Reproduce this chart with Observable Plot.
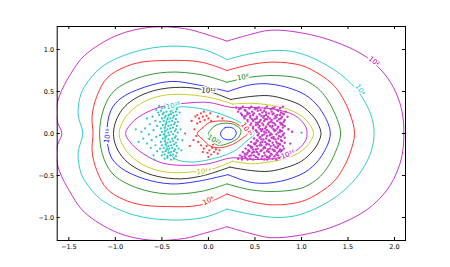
<!DOCTYPE html>
<html><head><meta charset="utf-8">
<script src="https://cdn.jsdelivr.net/npm/d3@7"></script>
<script src="https://cdn.jsdelivr.net/npm/@observablehq/plot@0.6"></script>
<style>body{margin:0;background:#fff}</style>
</head><body><div id="chart"></div>
<script>
const xTicks = [-1.5, -1.0, -0.5, 0.0, 0.5, 1.0, 1.5, 2.0];
const yTicks = [-1.0, -0.5, 0.0, 0.5, 1.0];

// Outer contours: right lobe (top kink -> bottom kink) and left lobe (bottom kink -> top kink)
const r02 = [[0.20,1.10],[0.42,1.17],[0.67,1.23],[0.99,1.20],[1.34,1.10],[1.70,0.91],[1.92,0.67],[2.04,0.42],[2.09,0.20],[2.10,0.00],[2.09,-0.20],[2.04,-0.42],[1.92,-0.67],[1.70,-0.91],[1.34,-1.11],[0.99,-1.21],[0.67,-1.24],[0.42,-1.18],[0.20,-1.11]];
const l02 = [[0.20,-1.11],[-0.05,-1.19],[-0.26,-1.25],[-0.62,-1.27],[-0.98,-1.18],[-1.33,-0.94],[-1.48,-0.71],[-1.60,-0.45],[-1.64,-0.25],[-1.62,-0.13],[-1.575,0.00],[-1.62,0.13],[-1.64,0.25],[-1.60,0.45],[-1.48,0.71],[-1.33,0.93],[-0.98,1.17],[-0.62,1.265],[-0.26,1.25],[-0.05,1.19],[0.20,1.10]];
const r04 = [[0.20,0.88],[0.45,0.95],[0.75,0.99],[1.00,0.95],[1.35,0.76],[1.58,0.54],[1.70,0.34],[1.76,0.17],[1.78,0.00],[1.76,-0.17],[1.70,-0.34],[1.58,-0.54],[1.35,-0.77],[1.00,-0.96],[0.75,-1.00],[0.45,-0.96],[0.20,-0.90]];
const l04 = [[0.20,-0.90],[-0.05,-1.00],[-0.40,-1.03],[-0.80,-0.97],[-1.15,-0.79],[-1.33,-0.56],[-1.38,-0.43],[-1.40,-0.22],[-1.35,0.00],[-1.40,0.22],[-1.38,0.43],[-1.33,0.56],[-1.15,0.79],[-0.80,0.97],[-0.40,1.04],[-0.05,1.00],[0.20,0.88]];
const r06 = [[0.20,0.75],[0.45,0.82],[0.70,0.85],[1.00,0.81],[1.20,0.70],[1.35,0.57],[1.44,0.43],[1.52,0.24],[1.57,0.00],[1.52,-0.24],[1.44,-0.43],[1.35,-0.57],[1.20,-0.70],[1.00,-0.81],[0.70,-0.85],[0.45,-0.81],[0.20,-0.72]];
const l06 = [[0.20,-0.72],[-0.08,-0.85],[-0.44,-0.87],[-0.80,-0.83],[-1.08,-0.67],[-1.20,-0.44],[-1.25,-0.21],[-1.24,0.00],[-1.25,0.21],[-1.20,0.44],[-1.08,0.67],[-0.80,0.83],[-0.44,0.87],[-0.08,0.85],[0.20,0.75]];
const r08 = [[0.20,0.61],[0.45,0.67],[0.72,0.69],[1.00,0.65],[1.15,0.56],[1.25,0.45],[1.35,0.26],[1.42,0.00],[1.35,-0.26],[1.25,-0.45],[1.15,-0.56],[1.00,-0.65],[0.72,-0.69],[0.45,-0.67],[0.20,-0.60]];
const l08 = [[0.20,-0.60],[-0.08,-0.69],[-0.44,-0.72],[-0.76,-0.65],[-1.01,-0.50],[-1.12,-0.31],[-1.17,0.00],[-1.12,0.31],[-1.01,0.51],[-0.76,0.66],[-0.44,0.73],[-0.08,0.70],[0.20,0.61]];
const r10 = [[0.21,0.50],[0.45,0.58],[0.65,0.59],[0.90,0.53],[1.08,0.43],[1.22,0.26],[1.31,0.00],[1.22,-0.26],[1.08,-0.43],[0.90,-0.53],[0.65,-0.59],[0.45,-0.58],[0.21,-0.49]];
const l10 = [[0.21,-0.49],[-0.12,-0.57],[-0.40,-0.60],[-0.69,-0.54],[-0.94,-0.41],[-1.05,-0.27],[-1.09,0.00],[-1.05,0.27],[-0.94,0.42],[-0.69,0.55],[-0.40,0.62],[-0.12,0.58],[0.21,0.50]];
const r12 = [[0.24,0.405],[0.45,0.44],[0.65,0.45],[0.85,0.40],[1.00,0.33],[1.12,0.21],[1.18,0.11],[1.21,0.00],[1.18,-0.11],[1.12,-0.21],[1.00,-0.33],[0.85,-0.40],[0.65,-0.45],[0.45,-0.44],[0.23,-0.40]];
const l12 = [[0.23,-0.40],[-0.05,-0.50],[-0.30,-0.54],[-0.55,-0.51],[-0.75,-0.43],[-0.90,-0.31],[-0.99,-0.16],[-1.02,0.00],[-0.99,0.16],[-0.90,0.32],[-0.75,0.44],[-0.55,0.52],[-0.30,0.55],[-0.05,0.52],[0.24,0.405]];
const r14 = [[0.26,0.35],[0.45,0.36],[0.65,0.34],[0.85,0.29],[1.00,0.21],[1.08,0.12],[1.13,0.00],[1.08,-0.12],[1.00,-0.21],[0.85,-0.29],[0.65,-0.34],[0.45,-0.36],[0.26,-0.33]];
const l14 = [[0.26,-0.33],[0.05,-0.42],[-0.20,-0.46],[-0.45,-0.46],[-0.65,-0.40],[-0.80,-0.30],[-0.91,-0.16],[-0.96,0.00],[-0.91,0.16],[-0.80,0.30],[-0.65,0.40],[-0.45,0.46],[-0.20,0.46],[0.05,0.42],[0.26,0.35]];
// Inner closed contours
const c16 = [[0.25,0.31],[0.50,0.31],[0.75,0.28],[0.92,0.22],[1.00,0.15],[1.05,0.07],[1.06,0.00],[1.05,-0.07],[1.00,-0.15],[0.92,-0.22],[0.75,-0.29],[0.50,-0.31],[0.25,-0.29],[0.00,-0.36],[-0.25,-0.38],[-0.50,-0.35],[-0.70,-0.24],[-0.82,-0.13],[-0.89,0.00],[-0.82,0.13],[-0.70,0.23],[-0.50,0.32],[-0.25,0.36],[0.00,0.37]];
const c18 = [[-0.17,0.31],[0.11,0.24],[0.36,0.12],[0.49,0.00],[0.40,-0.10],[0.26,-0.22],[-0.03,-0.32],[-0.20,-0.34],[-0.36,-0.30],[-0.44,-0.18],[-0.47,0.00],[-0.44,0.18],[-0.36,0.30]];
const c20 = [[-0.12,0.00],[-0.06,0.07],[0.01,0.13],[0.15,0.15],[0.28,0.13],[0.37,0.06],[0.42,0.00],[0.36,-0.06],[0.26,-0.13],[0.12,-0.17],[0.02,-0.15],[-0.06,-0.07]];
const c22 = [[0.00,0.00],[0.07,0.09],[0.15,0.12],[0.27,0.11],[0.35,0.04],[0.32,-0.05],[0.23,-0.11],[0.10,-0.14],[0.03,-0.07]];
const c24 = [[0.13,0.00],[0.18,0.07],[0.27,0.06],[0.30,0.00],[0.25,-0.07],[0.16,-0.06]];

const magentaPts = [[0.30,0.31],[0.33,0.29],[0.37,0.32],[0.39,0.28],[0.44,0.30],[0.46,0.32],[0.50,0.29],[0.54,0.31],[0.56,0.28],[0.61,0.30],[0.63,0.32],[0.67,0.29],[0.71,0.31],[0.74,0.28],[0.77,0.30],[0.80,0.32],
[0.32,0.26],[0.35,0.24],[0.40,0.27],[0.42,0.25],[0.47,0.26],[0.49,0.24],[0.53,0.27],[0.58,0.25],[0.60,0.27],[0.65,0.24],[0.68,0.26],[0.70,0.24],[0.75,0.27],[0.78,0.25],[0.83,0.26],
[0.36,0.22],[0.38,0.20],[0.42,0.23],[0.45,0.21],[0.48,0.22],[0.52,0.20],[0.55,0.23],[0.57,0.21],[0.62,0.22],[0.64,0.20],[0.69,0.23],[0.72,0.21],[0.74,0.22],[0.79,0.20],[0.81,0.23],
[0.39,0.18],[0.42,0.16],[0.45,0.19],[0.50,0.17],[0.52,0.18],[0.56,0.16],[0.59,0.19],[0.63,0.17],[0.66,0.18],[0.68,0.16],[0.73,0.19],[0.76,0.17],[0.78,0.18],[0.82,0.16],
[0.42,0.14],[0.46,0.12],[0.48,0.15],[0.51,0.13],[0.55,0.14],[0.58,0.12],[0.60,0.15],[0.65,0.13],[0.67,0.14],[0.71,0.12],[0.74,0.15],[0.77,0.13],[0.81,0.14],
[0.45,0.10],[0.48,0.08],[0.53,0.11],[0.55,0.09],[0.59,0.10],[0.62,0.08],[0.64,0.11],[0.69,0.09],[0.72,0.10],[0.75,0.08],[0.78,0.11],[0.82,0.09],
[0.48,0.06],[0.51,0.04],[0.54,0.07],[0.58,0.05],[0.61,0.06],[0.63,0.04],[0.68,0.07],[0.70,0.05],[0.74,0.06],[0.77,0.04],[0.80,0.07],
[0.52,0.02],[0.54,0.00],[0.57,0.03],[0.62,0.01],[0.65,0.02],[0.67,0.00],[0.71,0.03],[0.75,0.01],[0.77,0.02],[0.81,0.00],
[0.53,-0.02],[0.56,-0.04],[0.60,-0.01],[0.63,-0.03],[0.66,-0.02],[0.70,-0.04],[0.73,-0.01],[0.76,-0.03],[0.80,-0.02],
[0.49,-0.06],[0.52,-0.08],[0.55,-0.05],[0.59,-0.07],[0.62,-0.06],[0.65,-0.08],[0.68,-0.05],[0.72,-0.07],[0.75,-0.06],[0.78,-0.08],[0.82,-0.05],
[0.46,-0.10],[0.49,-0.12],[0.53,-0.09],[0.56,-0.11],[0.58,-0.10],[0.63,-0.12],[0.66,-0.09],[0.69,-0.11],[0.73,-0.10],[0.76,-0.12],[0.79,-0.09],[0.82,-0.11],
[0.43,-0.14],[0.47,-0.16],[0.50,-0.13],[0.52,-0.15],[0.57,-0.14],[0.60,-0.16],[0.62,-0.13],[0.67,-0.15],[0.70,-0.14],[0.72,-0.16],[0.77,-0.13],[0.80,-0.15],
[0.40,-0.18],[0.43,-0.20],[0.46,-0.17],[0.51,-0.19],[0.53,-0.18],[0.57,-0.20],[0.61,-0.17],[0.64,-0.19],[0.66,-0.18],[0.71,-0.20],[0.74,-0.17],[0.77,-0.19],[0.81,-0.18],
[0.37,-0.22],[0.39,-0.24],[0.44,-0.21],[0.47,-0.23],[0.49,-0.22],[0.54,-0.24],[0.56,-0.21],[0.60,-0.23],[0.65,-0.22],[0.67,-0.24],[0.71,-0.21],[0.74,-0.23],[0.78,-0.22],[0.82,-0.24],
[0.34,-0.26],[0.36,-0.28],[0.41,-0.25],[0.44,-0.27],[0.46,-0.26],[0.51,-0.28],[0.54,-0.25],[0.58,-0.27],[0.61,-0.26],[0.63,-0.28],[0.68,-0.25],[0.71,-0.27],[0.75,-0.26],[0.79,-0.28],
[0.32,-0.30],[0.36,-0.31],[0.40,-0.29],[0.45,-0.30],[0.48,-0.31],[0.53,-0.29],[0.57,-0.30],[0.60,-0.31],[0.65,-0.29],[0.69,-0.30],[0.73,-0.31],[0.76,-0.29],
[0.35,0.30],[0.52,0.30],[0.69,0.30],[0.44,0.24],[0.62,0.25],[0.80,0.24],[0.40,0.21],[0.60,0.21],[0.77,0.22],[0.47,0.17],[0.61,0.17],[0.71,0.18],[0.53,0.13],[0.69,0.13],[0.79,0.12],[0.51,0.10],[0.66,0.09],[0.80,0.10],[0.56,0.05],[0.72,0.04],[0.60,0.02],[0.79,0.03],[0.58,-0.02],[0.68,-0.01],[0.78,-0.04],[0.57,-0.07],[0.70,-0.06],[0.51,-0.11],[0.61,-0.10],[0.74,-0.12],[0.45,-0.15],[0.55,-0.14],[0.65,-0.13],[0.75,-0.15],[0.48,-0.19],[0.59,-0.18],[0.69,-0.19],[0.79,-0.20],[0.42,-0.23],[0.52,-0.22],[0.63,-0.21],[0.76,-0.21],[0.39,-0.27],[0.49,-0.26],[0.66,-0.27],[0.73,-0.25],[0.42,-0.31],[0.63,-0.31],[0.81,-0.27],[0.86,0.05],[0.88,-0.12],[0.85,0.20],[0.90,0.02]];

const cyanPts = [[-0.46,0.35],[-0.42,0.33],[-0.39,0.36],[-0.36,0.34],
[-0.50,0.30],[-0.47,0.31],[-0.43,0.29],[-0.40,0.31],[-0.37,0.30],[-0.34,0.29],
[-0.51,0.27],[-0.48,0.25],[-0.45,0.26],[-0.41,0.27],[-0.38,0.25],[-0.35,0.26],
[-0.53,0.22],[-0.49,0.23],[-0.46,0.21],[-0.43,0.22],[-0.40,0.23],[-0.37,0.21],[-0.34,0.22],
[-0.50,0.18],[-0.47,0.19],[-0.44,0.17],[-0.41,0.18],[-0.38,0.19],[-0.35,0.17],
[-0.52,0.14],[-0.48,0.15],[-0.45,0.13],[-0.42,0.14],[-0.39,0.15],[-0.36,0.13],[-0.33,0.14],
[-0.49,0.10],[-0.46,0.11],[-0.43,0.09],[-0.40,0.10],[-0.37,0.11],[-0.34,0.09],
[-0.51,0.06],[-0.47,0.07],[-0.44,0.05],[-0.41,0.06],[-0.38,0.07],[-0.35,0.05],
[-0.50,0.02],[-0.46,0.03],[-0.43,0.01],[-0.40,0.02],[-0.36,0.03],[-0.33,0.01],
[-0.52,-0.02],[-0.48,-0.01],[-0.45,-0.03],[-0.42,-0.02],[-0.38,-0.01],[-0.35,-0.03],
[-0.49,-0.06],[-0.46,-0.05],[-0.43,-0.07],[-0.39,-0.06],[-0.36,-0.05],[-0.33,-0.07],
[-0.51,-0.10],[-0.47,-0.09],[-0.44,-0.11],[-0.41,-0.10],[-0.38,-0.09],[-0.35,-0.11],
[-0.50,-0.14],[-0.46,-0.13],[-0.43,-0.15],[-0.40,-0.14],[-0.37,-0.13],[-0.34,-0.15],
[-0.52,-0.18],[-0.48,-0.17],[-0.45,-0.19],[-0.42,-0.18],[-0.39,-0.17],[-0.36,-0.19],[-0.32,-0.18],
[-0.49,-0.22],[-0.46,-0.21],[-0.43,-0.23],[-0.40,-0.22],[-0.37,-0.21],[-0.34,-0.23],
[-0.50,-0.26],[-0.47,-0.25],[-0.44,-0.27],[-0.41,-0.26],[-0.38,-0.25],[-0.35,-0.27],
[-0.47,-0.30],[-0.44,-0.29],[-0.40,-0.31],[-0.37,-0.30],
[-0.56,0.28],[-0.60,0.20],[-0.57,0.15],[-0.63,0.11],[-0.55,0.09],[-0.68,0.06],[-0.59,0.04],[-0.72,0.02],[-0.64,-0.01],[-0.56,-0.04],[-0.70,-0.06],[-0.61,-0.08],[-0.66,-0.12],[-0.57,-0.14],[-0.75,-0.10],[-0.62,-0.17],[-0.55,-0.21],[-0.59,-0.26],[-0.78,0.05],[-0.66,0.18],[-0.54,0.25],[-0.58,-0.31],[-0.53,0.33],
[-0.30,0.05],[-0.29,-0.20],[-0.31,0.25],[-0.28,-0.08],[1.00,0.01]];

const redPts = [[-0.14,0.20],[-0.12,0.22],[-0.10,0.18],[-0.08,0.24],[-0.06,0.20],[-0.04,0.16],[-0.02,0.21],[0.00,0.18],[-0.09,0.14],[-0.12,0.12],[0.03,0.15],[-0.05,0.26],[0.02,0.24],
[-0.15,0.05],[-0.13,-0.03],[-0.16,-0.08],[-0.11,-0.10],
[-0.08,-0.14],[-0.05,-0.18],[-0.02,-0.15],[0.01,-0.20],[0.04,-0.17],[0.06,-0.22],[0.03,-0.25],[-0.01,-0.23],[0.08,-0.19],[0.10,-0.24],[-0.06,-0.22],[0.00,-0.28],[0.05,-0.13],[0.12,-0.20],
[-0.25,0.00],[-0.20,-0.15],[0.10,0.20],[0.15,0.18],[-0.18,0.15]];

const labels = [
  {t:"10²", x:1.78, y:0.86, a:38, lvl:0},
  {t:"10⁴", x:1.63, y:0.52, a:58, lvl:1},
  {t:"10⁶", x:0.00, y:-0.80, a:-25, lvl:2},
  {t:"10⁸", x:0.37, y:0.67, a:-10, lvl:3},
  {t:"10¹⁰", x:-1.085, y:-0.03, a:-80, lvl:4},
  {t:"10¹²", x:0.00, y:0.51, a:6, lvl:5},
  {t:"10¹⁴", x:-0.05, y:-0.45, a:-5, lvl:6},
  {t:"10¹⁶", x:0.855, y:-0.25, a:-20, lvl:7},
  {t:"10¹⁸", x:-0.38, y:0.33, a:-12, lvl:8},
  {t:"10²⁰", x:0.41, y:0.05, a:58, lvl:9},
  {t:"10²²", x:0.06, y:-0.08, a:35, lvl:10}
];

const lobes = [[r02,l02],[r04,l04],[r06,l06],[r08,l08],[r10,l10],[r12,l12],[r14,l14]];
const closed = [c16,c18,c20,c22,c24];
const colors = ["#bf00bf","#00bfbf","#ff0000","#008000","#0000ff","#000000","#bfbf00","#bf00bf","#00bfbf","#ff0000","#008000","#0000ff"];

const W = 450, H = 267;
const mL = 56.7, mR = 45, mT = 26, mB = 27;
const innerH = H - mT - mB, innerW = W - mL - mR;
const fmt = d => d.toFixed(1).replace("-", "\u2212");
const lineStyle = {strokeWidth: 1, strokeOpacity: 0.8, clip: true};

const marks = [];
lobes.forEach((pair, i) => {
  pair.forEach(seg => marks.push(Plot.line(seg, {x: d => d[0], y: d => d[1], curve: "catmull-rom", stroke: colors[i], ...lineStyle})));
});
closed.forEach((c, j) => {
  marks.push(Plot.line(c, {x: d => d[0], y: d => d[1], curve: "catmull-rom-closed", stroke: colors[7 + j], ...lineStyle}));
});
marks.push(Plot.dot(cyanPts, {x: d => d[0], y: d => d[1], r: 1.1, fill: "#2cc6c6"}));
marks.push(Plot.dot(redPts, {x: d => d[0], y: d => d[1], r: 1.1, fill: "#ff3a3a"}));
marks.push(Plot.dot(magentaPts, {x: d => d[0], y: d => d[1], r: 1.2, fill: "#c83cc8"}));
labels.forEach(l => {
  marks.push(Plot.text([l], {x: "x", y: "y", text: "t", rotate: l.a, fill: colors[l.lvl], stroke: "white", strokeWidth: 3, fontSize: 7}));
});
marks.push(Plot.ruleX(xTicks, {x: d => d, insetTop: innerH - 3, stroke: "black"}));
marks.push(Plot.ruleX(xTicks, {x: d => d, insetBottom: innerH - 3, stroke: "black"}));
marks.push(Plot.ruleY(yTicks, {y: d => d, insetRight: innerW - 3, stroke: "black"}));
marks.push(Plot.ruleY(yTicks, {y: d => d, insetLeft: innerW - 3, stroke: "black"}));
marks.push(Plot.axisX(xTicks, {tickSize: 0, tickPadding: 4, tickFormat: fmt, fontSize: 6.5}));
marks.push(Plot.axisY(yTicks, {tickSize: 0, tickPadding: 3, tickFormat: fmt, fontSize: 6.5}));
marks.push(Plot.frame({stroke: "black", strokeWidth: 1}));

const chart = Plot.plot({
  width: W, height: H,
  marginLeft: mL, marginRight: mR, marginTop: mT, marginBottom: mB,
  style: {fontFamily: "DejaVu Sans", background: "white", color: "black"},
  x: {domain: [-1.625, 2.118], label: null},
  y: {domain: [-1.274, 1.274], label: null},
  marks
});
document.getElementById("chart").appendChild(chart);
</script>
</body></html>
